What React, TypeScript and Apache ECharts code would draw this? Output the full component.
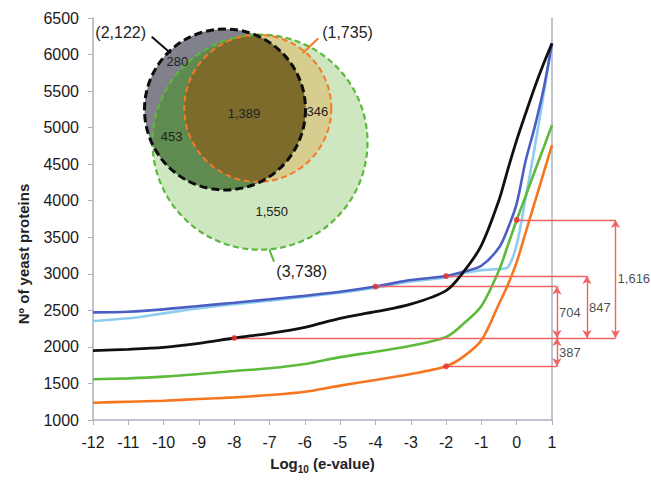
import { useEffect, useRef } from "react";
import * as echarts from "echarts";

// ---------- data ----------
const xValues = [-12, -11, -10, -9, -8, -7, -6, -5, -4, -3, -2, -1.5, -1, -0.5, -0.25, 0, 0.25, 0.5, 0.75, 1];
const blackValues = [1948, 1967, 1995, 2049, 2122, 2186, 2268, 2391, 2482, 2585, 2770, 3030, 3390, 4010, 4430, 4830, 5190, 5540, 5860, 6153];
const blueValues = [2473, 2482, 2514, 2560, 2605, 2651, 2700, 2755, 2826, 2915, 2969, 3030, 3110, 3360, 3620, 3960, 4540, 4990, 5500, 6153];
const lightBlueValues = [2354, 2391, 2459, 2528, 2583, 2632, 2685, 2740, 2810, 2895, 2950, 3010, 3050, 3065, 3090, 3400, 4030, 4700, 5420, 6153];
const greenValues = [1557, 1570, 1593, 1629, 1670, 1707, 1765, 1860, 1934, 2015, 2135, 2320, 2560, 3050, 3390, 3736, 4060, 4390, 4710, 5036];
const orangeValues = [1237, 1250, 1264, 1287, 1310, 1342, 1387, 1470, 1547, 1629, 1735, 1870, 2090, 2590, 2850, 3160, 3560, 3960, 4360, 4762];

const xTicks = { min: -12, max: 1, interval: 1 };
const yTicks = { min: 1000, max: 6500, interval: 500 };

// reference point (black curve at 1e-8) and marked points
const refPoint = [-8, 2122];
const markedPoints = [
  [0, 3738],
  [-2, 2969],
  [-4, 2826],
  [-2, 1735],
];
const differenceLabels = ["1,616", "847", "704", "387"];

// Venn counts
const vennTotals = ["(2,122)", "(1,735)", "(3,738)"];
const vennRegionCounts = ["280", "1,389", "346", "453", "1,550"];

// ---------- layout (not data) ----------
const bracketX = [2.8, 1.99, 1.14, 1.14];
const FONT = '"Liberation Sans", Arial, sans-serif';
const venn = {
  black: { cx: 145, cy: 109.5, r: 80.5 },
  orange: { cx: 177.8, cy: 108.3, r: 73.5 },
  green: { cx: 180, cy: 142.2, r: 107.5 },
  totalPos: [
    [40.7, 32],
    [267.5, 32],
    [221.7, 271.7],
  ],
  countPos: [
    [97.3, 61.7],
    [164, 113.3],
    [237.3, 111.7],
    [91.7, 136.7],
    [191.7, 211.7],
  ],
  leaders: [
    { p: [71.7, 36.7], q: [90.7, 53.3], c: "#111111" },
    { p: [238.3, 38.3], q: [222.7, 53.3], c: "#f47a2a" },
    { p: [189.3, 249.3], q: [194, 261.7], c: "#5bb83c" },
  ],
};

type C = { cx: number; cy: number; r: number };
function intersection(circles: C[]): number[][] {
  const pts: number[][] = [];
  circles.forEach((c, ci) => {
    for (let k = 0; k < 720; k++) {
      const a = (k * Math.PI) / 360;
      const x = c.cx + c.r * Math.cos(a);
      const y = c.cy + c.r * Math.sin(a);
      const inside = circles.every(
        (d, di) => di === ci || (x - d.cx) ** 2 + (y - d.cy) ** 2 <= d.r * d.r + 1e-6
      );
      if (inside) pts.push([x, y]);
    }
  });
  const mx = pts.reduce((s, p) => s + p[0], 0) / pts.length;
  const my = pts.reduce((s, p) => s + p[1], 0) / pts.length;
  pts.sort((p, q) => Math.atan2(p[1] - my, p[0] - mx) - Math.atan2(q[1] - my, q[0] - mx));
  return pts;
}

function lineSeries(name: string, values: number[], color: string, z: number, width = 2.6) {
  return {
    name,
    type: "line",
    xAxisIndex: 0,
    yAxisIndex: 0,
    data: xValues.map((x, i) => [x, values[i]]),
    showSymbol: false,
    smooth: 0.3,
    lineStyle: { color, width },
    itemStyle: { color },
    z,
    silent: true,
  };
}

export default function App() {
  const ref = useRef<HTMLDivElement>(null);
  useEffect(() => {
    if (!ref.current) return;
    const chart = echarts.init(ref.current, undefined, { renderer: "svg" });
    const axisColor = "#aab1bf";
    const annColor = "#f06464";

    const hLines: any[] = markedPoints.map((p, i) => [
      { coord: [p[0], p[1]], symbol: "none" },
      { coord: [bracketX[i], p[1]], symbol: "none" },
    ]);
    hLines.push([
      { coord: refPoint, symbol: "none" },
      { coord: [Math.max(...bracketX), refPoint[1]], symbol: "none" },
    ]);
    const vLines: any[] = markedPoints.map((p, i) => [
      { coord: [bracketX[i], refPoint[1]], symbol: "arrow" },
      { coord: [bracketX[i], p[1]], symbol: "arrow" },
    ]);

    const plain = (v: number) => String(v);

    const option: any = {
      animation: false,
      textStyle: { fontFamily: FONT },
      grid: [
        { left: 93, right: 99, top: 18, bottom: 60 },
        { left: 93, right: 10.73, top: 18, bottom: 60 },
        { left: 80, top: 0, width: 330, height: 290 },
      ],
      xAxis: [
        {
          type: "value",
          gridIndex: 0,
          min: xTicks.min,
          max: xTicks.max,
          interval: xTicks.interval,
          axisLine: { onZero: false, lineStyle: { color: axisColor, width: 1.5 } },
          axisTick: { length: 5, lineStyle: { color: axisColor } },
          splitLine: { show: false },
          axisLabel: { fontSize: 16, color: "#1a1a1a", margin: 14, fontFamily: FONT, formatter: plain },
          name: "{a|Log}{sub|10}{a| (e-value)}",
          nameLocation: "middle",
          nameGap: 36,
          nameTextStyle: {
            rich: {
              a: { fontSize: 15, fontWeight: "bold", color: "#222", fontFamily: FONT, verticalAlign: "top", lineHeight: 18 },
              sub: { fontSize: 10, fontWeight: "bold", color: "#222", fontFamily: FONT, verticalAlign: "bottom", lineHeight: 10, padding: [9, 0, 0, 0] },
            },
          },
        },
        { type: "value", gridIndex: 1, min: -12, max: 3.5, show: false },
        { type: "value", gridIndex: 2, min: 0, max: 330, show: false },
      ],
      yAxis: [
        {
          type: "value",
          gridIndex: 0,
          min: yTicks.min,
          max: yTicks.max,
          interval: yTicks.interval,
          axisLine: { show: true, onZero: false, lineStyle: { color: axisColor, width: 1.5 } },
          axisTick: { show: true, length: 5, lineStyle: { color: axisColor } },
          splitLine: { show: false },
          axisLabel: { fontSize: 16, color: "#1a1a1a", margin: 14, fontFamily: FONT, formatter: plain },
          name: "Nº of yeast proteins",
          nameLocation: "middle",
          nameGap: 62,
          nameTextStyle: { fontSize: 15, fontWeight: "bold", color: "#222", fontFamily: FONT, padding: [0, 70, 0, 0] },
        },
        {
          type: "value",
          gridIndex: 0,
          position: "right",
          min: yTicks.min,
          max: yTicks.max,
          axisLine: { show: true, onZero: false, lineStyle: { color: axisColor, width: 1.5 } },
          axisTick: { show: false },
          axisLabel: { show: false },
          splitLine: { show: false },
        },
        { type: "value", gridIndex: 1, min: yTicks.min, max: yTicks.max, show: false },
        { type: "value", gridIndex: 2, min: 0, max: 290, inverse: true, show: false },
      ],
      series: [
        lineSeries("light blue", lightBlueValues, "#8fcdf0", 2),
        lineSeries("blue", blueValues, "#4b5fc2", 3),
        lineSeries("green", greenValues, "#5cbb3a", 4),
        lineSeries("orange", orangeValues, "#f5761e", 5),
        lineSeries("black", blackValues, "#111111", 6, 2.8),
        {
          type: "scatter",
          xAxisIndex: 1,
          yAxisIndex: 2,
          data: [refPoint, ...markedPoints],
          symbolSize: 6,
          itemStyle: { color: "#e8302e" },
          z: 10,
          silent: true,
          markLine: {
            silent: true,
            animation: false,
            symbolSize: [7, 8],
            label: { show: false },
            lineStyle: { color: annColor, width: 1.4, type: "solid" },
            emphasis: { disabled: true },
            data: [...hLines, ...vLines],
          },
        },
        {
          type: "scatter",
          xAxisIndex: 1,
          yAxisIndex: 2,
          symbolSize: 0,
          silent: true,
          data: markedPoints.map((p, i) => [bracketX[i], (p[1] + refPoint[1]) / 2]),
          label: {
            show: true,
            position: "right",
            distance: 2,
            fontSize: 13,
            color: "#1a1a1a",
            fontFamily: FONT,
            formatter: (pr: any) => differenceLabels[pr.dataIndex],
          },
          z: 11,
        },
        {
          type: "custom",
          xAxisIndex: 2,
          yAxisIndex: 3,
          silent: true,
          clip: false,
          z: 20,
          data: [[0, 0]],
          renderItem: (_params: any, api: any) => {
            const P = (p: number[]) => api.coord(p);
            const S = (r: number) => api.size([r, 0])[0];
            const circ = (c: C, style: any) => {
              const p = P([c.cx, c.cy]);
              return { type: "circle", shape: { cx: p[0], cy: p[1], r: S(c.r) }, style };
            };
            const poly = (pts: number[][], fill: string) => ({
              type: "polygon",
              shape: { points: pts.map((q) => P(q)) },
              style: { fill },
            });
            const children: any[] = [];
            children.push(circ(venn.green, { fill: "#cfe7c0" }));
            children.push(circ(venn.black, { fill: "#81818b" }));
            children.push(circ(venn.orange, { fill: "#d7cd8e" }));
            children.push(poly(intersection([venn.black, venn.green]), "#5f8b50"));
            children.push(poly(intersection([venn.black, venn.orange]), "#7c6b2b"));
            children.push(circ(venn.green, { fill: "none", stroke: "#5bb83c", lineWidth: 2.2, lineDash: [6, 3.5] }));
            children.push(circ(venn.orange, { fill: "none", stroke: "#f47a2a", lineWidth: 2, lineDash: [6, 3.5] }));
            children.push(circ(venn.black, { fill: "none", stroke: "#0d0d0d", lineWidth: 3, lineDash: [8, 4] }));
            venn.leaders.forEach((l) => {
              const a = P(l.p);
              const b = P(l.q);
              children.push({ type: "line", shape: { x1: a[0], y1: a[1], x2: b[0], y2: b[1] }, style: { stroke: l.c, lineWidth: 2 } });
            });
            vennTotals.forEach((t, i) => {
              const p = P(venn.totalPos[i]);
              children.push({
                type: "text",
                x: p[0],
                y: p[1],
                style: { text: t, fill: "#222", fontSize: 16, fontFamily: FONT, align: "center", verticalAlign: "middle" },
              });
            });
            vennRegionCounts.forEach((t, i) => {
              const p = P(venn.countPos[i]);
              children.push({
                type: "text",
                x: p[0],
                y: p[1],
                style: { text: t, fill: "#222", fontSize: 13, fontFamily: FONT, align: "center", verticalAlign: "middle" },
              });
            });
            return { type: "group", children };
          },
        },
      ],
    };
    chart.setOption(option);
    return () => chart.dispose();
  }, []);
  return <div ref={ref} style={{ position: "fixed", left: 0, top: 0, width: 651, height: 480, background: "#fff" }} />;
}
